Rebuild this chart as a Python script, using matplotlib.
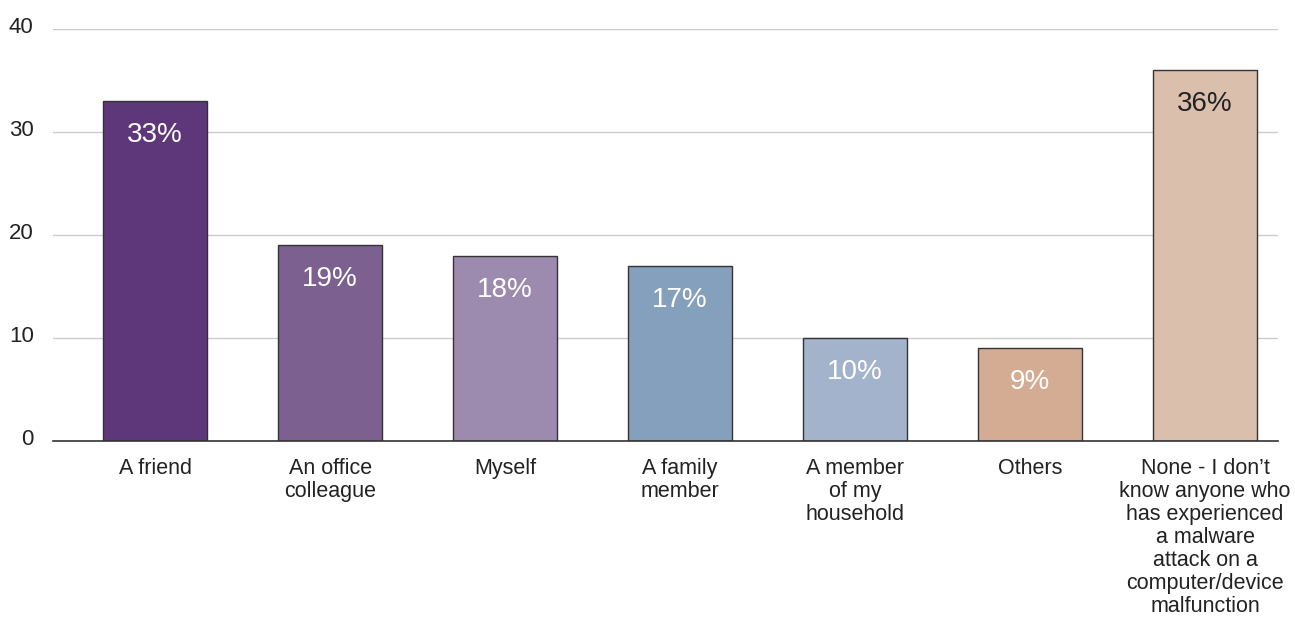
import matplotlib.pyplot as plt
import matplotlib.transforms as mtransforms

plt.rcParams['font.family'] = ['Liberation Sans', 'DejaVu Sans']

categories = [
    "A friend",
    "An office\ncolleague",
    "Myself",
    "A family\nmember",
    "A member\nof my\nhousehold",
    "Others",
    "None - I don\u2019t\nknow anyone who\nhas experienced\na malware\nattack on a\ncomputer/device\nmalfunction",
]
values = [33, 19, 18, 17, 10, 9, 36]
colors = ["#5e377a", "#7b6090", "#9d8aaf", "#84a0bd", "#a2b3cb", "#d4ac93", "#dabfad"]
label_colors = ["white", "white", "white", "white", "white", "white", "#222222"]

fig = plt.figure(figsize=(12.95, 6.3), dpi=100)
ax = fig.add_axes([0.041, 0.3, 0.946, 0.654])

x = range(len(values))
bars = ax.bar(x, values, width=0.594, color=colors, edgecolor="#333333", linewidth=1, zorder=3)

for b, v, c in zip(bars, values, label_colors):
    ax.text(b.get_x() + b.get_width() / 2, v - 3.3, f"{v}%", ha="center", va="center",
            fontsize=20, color=c, zorder=4)

ax.set_xlim(-0.583, 6.417)
ax.set_ylim(0, 40)
ax.set_yticks([0, 10, 20, 30, 40])
ax.set_xticks(list(x))
ax.set_xticklabels(categories, fontsize=15.5, color="#222222", linespacing=1.13)
ax.tick_params(axis="x", length=0, pad=12)
ax.tick_params(axis="y", length=0, pad=14, labelsize=16, labelcolor="#222222")

# nudge y labels slightly above their gridlines
off = mtransforms.ScaledTranslation(0, 3 / 72, fig.dpi_scale_trans)
for lbl in ax.get_yticklabels():
    lbl.set_transform(lbl.get_transform() + off)

ax.grid(axis="y", color="#cccccc", linewidth=1, zorder=0)
for s in ["top", "right", "left"]:
    ax.spines[s].set_visible(False)
ax.spines["bottom"].set_color("#333333")
ax.spines["bottom"].set_linewidth(1.2)
ax.spines["bottom"].set_zorder(5)

fig.savefig("out.png", dpi=100)
